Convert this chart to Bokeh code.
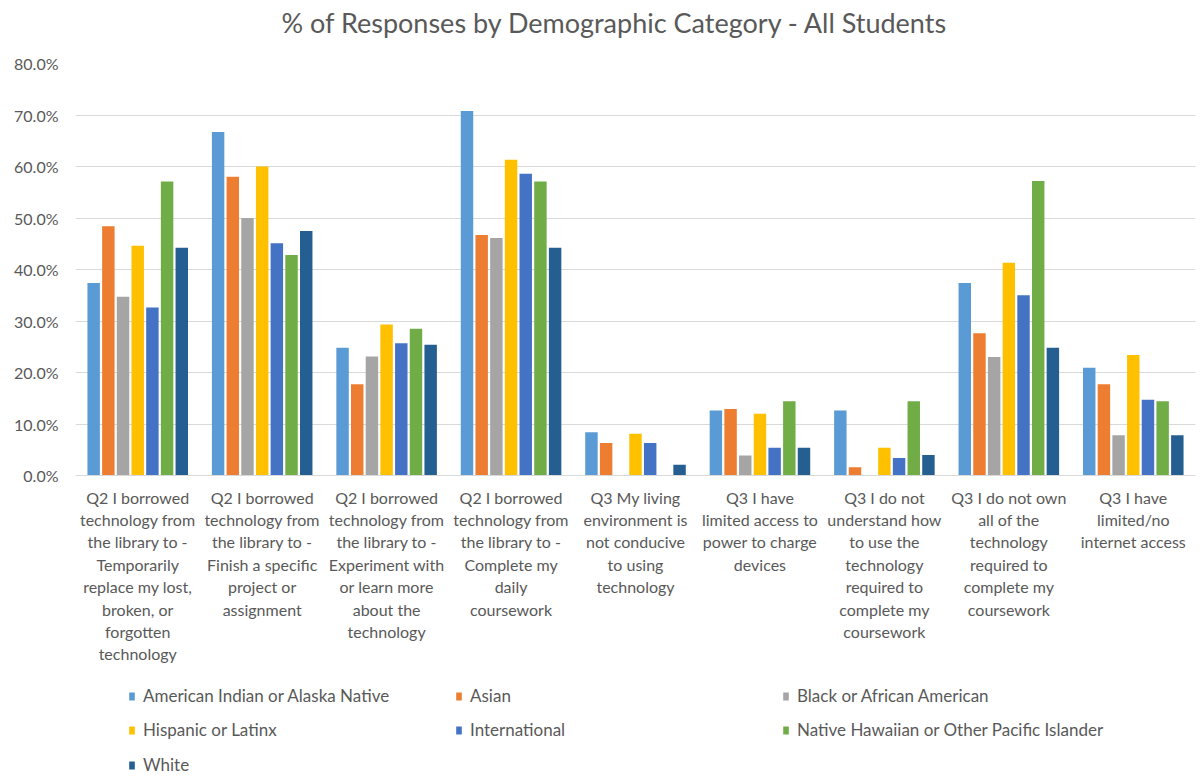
from bokeh.plotting import figure
from bokeh.models import (ColumnDataSource, FactorRange, Legend, LegendItem,
                          FixedTicker, PrintfTickFormatter, Range1d)
from bokeh.layouts import column
from bokeh.transform import dodge
from bokeh.embed import file_html
from bokeh.resources import INLINE

title_text = "% of Responses by Demographic Category  - All Students"

categories = [
    "Q2 I borrowed\ntechnology from\nthe library to -\nTemporarily\nreplace my lost,\nbroken, or\nforgotten\ntechnology",
    "Q2 I borrowed\ntechnology from\nthe library to -\nFinish a specific\nproject or\nassignment",
    "Q2 I borrowed\ntechnology from\nthe library to -\nExperiment with\nor learn more\nabout the\ntechnology",
    "Q2 I borrowed\ntechnology from\nthe library to -\nComplete my\ndaily\ncoursework",
    "Q3 My living\nenvironment is\nnot conducive\nto using\ntechnology",
    "Q3 I have\nlimited access to\npower to charge\ndevices",
    "Q3 I do not\nunderstand how\nto use the\ntechnology\nrequired to\ncomplete my\ncoursework",
    "Q3 I do not own\nall of the\ntechnology\nrequired to\ncomplete my\ncoursework",
    "Q3 I have\nlimited/no\ninternet access",
]

series_names = [
    "American Indian or Alaska Native",
    "Asian",
    "Black or African American",
    "Hispanic or Latinx",
    "International",
    "Native Hawaiian or Other Pacific Islander",
    "White",
]

american_indian = [37.4, 66.7, 24.8, 70.8, 8.4, 12.6, 12.6, 37.4, 20.9]
asian = [48.4, 58.0, 17.7, 46.7, 6.3, 12.9, 1.6, 27.6, 17.7]
black = [34.7, 50.0, 23.1, 46.1, 0.0, 3.9, 0.0, 23.0, 7.8]
hispanic = [44.6, 60.0, 29.3, 61.3, 8.1, 12.0, 5.4, 41.3, 23.4]
international = [32.6, 45.1, 25.7, 58.6, 6.3, 5.4, 3.4, 35.0, 14.7]
native_hawaiian = [57.1, 42.8, 28.5, 57.1, 0.0, 14.4, 14.4, 57.2, 14.4]
white = [44.2, 47.5, 25.4, 44.2, 2.1, 5.4, 4.0, 24.8, 7.8]

y_ticks = [0, 10, 20, 30, 40, 50, 60, 70, 80]

colors = ["#5B9BD5", "#ED7D31", "#A5A5A5", "#FFC000", "#4472C4", "#70AD47", "#255E91"]
series_values = [american_indian, asian, black, hispanic, international, native_hawaiian, white]
keys = ["s%d" % i for i in range(len(series_names))]

data = {"cat": categories}
for k, v in zip(keys, series_values):
    data[k] = v
source = ColumnDataSource(data)

FONT = "Lato"
TXT = "#595959"
xr = FactorRange(*categories)

# ---- title strip ----
tf = figure(width=1204, height=51, x_range=xr, y_range=Range1d(0, 1),
            output_backend="svg", toolbar_location=None,
            x_axis_type=None, y_axis_type=None, min_border=0,
            min_border_left=75, min_border_right=9)
tf.outline_line_color = None
tf.title.text = title_text
tf.title.align = "left"
tf.title.offset = 206
tf.title.vertical_align = "top"
tf.title.standoff = 10
tf.title.text_font = FONT
tf.title.text_font_size = "27px"
tf.title.text_font_style = "normal"
tf.title.text_color = TXT

# ---- main chart ----
p = figure(width=1204, height=635, x_range=xr,
           y_range=Range1d(0, 80), output_backend="svg", toolbar_location=None,
           min_border_left=75, min_border_right=9, min_border_top=12,
           min_border_bottom=211)

slot = 0.118
bw = 0.1
for i, (k, c) in enumerate(zip(keys, colors)):
    p.vbar(x=dodge("cat", (i - 3) * slot, range=xr), top=k, width=bw,
           source=source, fill_color=c, line_color=None)

p.outline_line_color = None
p.xgrid.grid_line_color = None
p.ygrid.grid_line_color = "#D9D9D9"
p.ygrid.grid_line_width = 1

p.yaxis.ticker = FixedTicker(ticks=y_ticks)
p.yaxis.formatter = PrintfTickFormatter(format="%.1f%%")
p.yaxis.axis_line_color = None
p.yaxis.major_tick_line_color = None
p.yaxis.minor_tick_line_color = None
p.yaxis.major_tick_out = 0
p.yaxis.major_tick_in = 0
p.yaxis.major_label_standoff = 17
p.yaxis.major_label_text_font = FONT
p.yaxis.major_label_text_font_size = "16px"
p.yaxis.major_label_text_color = TXT

p.xaxis.axis_line_color = "#D9D9D9"
p.xaxis.major_tick_line_color = None
p.xaxis.major_tick_out = 0
p.xaxis.major_tick_in = 0
p.xaxis.major_label_standoff = 12
p.xaxis.major_label_orientation = "horizontal"
p.xaxis.major_label_text_font = FONT
p.xaxis.major_label_text_font_size = "16px"
p.xaxis.major_label_text_color = TXT
p.xaxis.major_label_text_line_height = 1.18

# ---- legend strip (zero-area renderers only feed the legend) ----
lg = figure(width=1204, height=90, x_range=xr, y_range=Range1d(-100, -50),
            output_backend="svg", toolbar_location=None,
            x_axis_type=None, y_axis_type=None, min_border=0,
            min_border_left=75, min_border_right=9)
lg.outline_line_color = None
items = []
for k, name, c in zip(keys, series_names, colors):
    r = lg.vbar(x="cat", top=k, bottom=k, width=0, source=source,
                fill_color=c, line_color=None)
    items.append(LegendItem(label=name, renderers=[r]))

rows = [items[0:3], items[3:6], items[6:7]]
row_y = [70, 36, 1]
for its, yy in zip(rows, row_y):
    leg = Legend(items=its, location=(53, yy), orientation="horizontal",
                 glyph_width=7, glyph_height=10, label_standoff=8, label_width=298,
                 label_height=20, spacing=14, padding=0, margin=0,
                 border_line_color=None, background_fill_alpha=0,
                 label_text_font=FONT, label_text_font_size="17px",
                 label_text_color=TXT)
    lg.add_layout(leg, "center")

open("out.html", "w").write(file_html(column(tf, p, lg), INLINE))
